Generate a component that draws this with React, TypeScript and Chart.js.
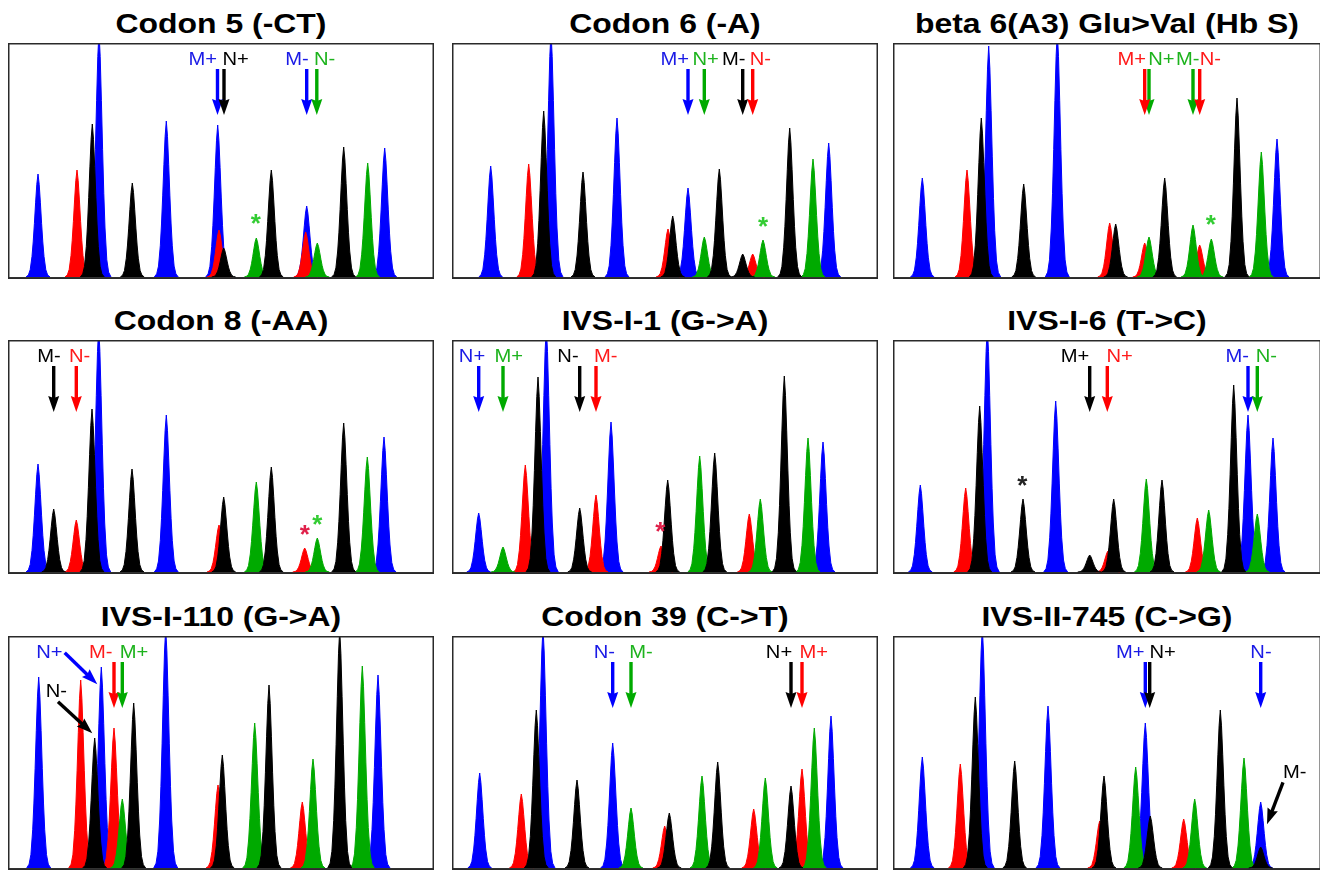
import React, { useEffect, useRef } from "react";
import { Chart, registerables } from "chart.js";

Chart.register(...registerables);

// ---------- data (x = migration position, h = peak height, dye: B blue, R red, G green, K black) ----------
const codon5Pos = [30, 69, 84.3, 91, 124.3, 158.3, 209.7, 211, 215.7, 248.3, 263.3, 298.7, 297.7, 309.3, 335.7, 359.7, 376.7];
const codon5Height = [103, 107, 153, 245, 94, 156, 152, 47, 29, 39, 107, 71, 45, 34, 130, 114, 129];
const codon5Dye = ["B", "R", "K", "B", "K", "B", "B", "R", "K", "G", "K", "B", "R", "G", "K", "G", "B"];

const codon6Pos = [38.7, 76.7, 91.7, 99, 131, 165, 216, 220.7, 236, 252.3, 267.3, 290.7, 300.7, 311, 337.7, 361, 376.7];
const codon6Height = [111, 113, 166, 245, 105, 159, 48, 61, 89, 40, 108, 23, 23, 37, 149, 118, 134];
const codon6Dye = ["B", "R", "K", "B", "K", "B", "R", "K", "B", "G", "K", "K", "R", "G", "K", "G", "B"];

const hbSPos = [29.3, 74, 88.3, 95.7, 130.7, 164.3, 216.7, 222.7, 251.7, 256, 271.7, 300, 306.7, 318.3, 344, 368.3, 384];
const hbSHeight = [99, 107, 159, 231, 93, 245, 54, 53, 34, 40, 99, 52, 32, 38, 179, 125, 138];
const hbSDye = ["B", "R", "K", "B", "K", "B", "R", "K", "R", "G", "K", "G", "R", "G", "K", "G", "B"];

const codon8Pos = [30, 45.7, 68.3, 84, 90.7, 124, 158.3, 211, 215.7, 248.3, 263.3, 296.7, 309.3, 335.7, 359.3, 376];
const codon8Height = [108, 63, 52, 163, 245, 103, 157, 47, 75, 90, 105, 24, 34, 149, 115, 135];
const codon8Dye = ["B", "K", "R", "K", "B", "K", "B", "R", "K", "G", "K", "R", "G", "K", "G", "B"];

const ivs1_1Pos = [26.7, 51, 73.3, 86, 94.3, 127.7, 144, 159, 209, 215.7, 247.7, 262.7, 297.3, 308.3, 332.3, 356, 371];
const ivs1_1Height = [59, 25, 107, 195, 245, 64, 77, 150, 26, 92, 116, 119, 58, 73, 196, 134, 130];
const ivs1_1Dye = ["B", "G", "R", "K", "B", "K", "R", "B", "R", "K", "G", "K", "R", "G", "K", "G", "B"];

const ivs1_6Pos = [27.3, 72.7, 86.7, 94.3, 130, 162.7, 196.7, 215, 220.7, 253.3, 269, 304.3, 315.7, 340.7, 355, 364.3, 380];
const ivs1_6Height = [87, 84, 166, 245, 73, 171, 17, 21, 73, 93, 92, 54, 62, 187, 157, 58, 134];
const ivs1_6Dye = ["B", "R", "K", "B", "K", "B", "K", "R", "K", "G", "K", "R", "G", "K", "B", "G", "B"];

const ivs1_110Pos = [30.7, 72.7, 86.7, 93.3, 106, 114.3, 125.7, 157.7, 210, 214.3, 246.7, 261, 294.3, 305, 331.7, 354.3, 370];
const ivs1_110Height = [191, 188, 130, 201, 140, 69, 165, 240, 83, 113, 145, 183, 66, 109, 238, 202, 193];
const ivs1_110Dye = ["B", "R", "K", "B", "R", "G", "K", "B", "R", "K", "G", "K", "R", "G", "K", "G", "B"];

const codon39Pos = [27.7, 69.3, 84.3, 91, 125, 160.7, 179, 212.7, 217.3, 250, 265.7, 301.7, 313.3, 339, 350, 362.3, 379];
const codon39Height = [95, 74, 158, 240, 88, 125, 60, 42, 55, 92, 106, 59, 90, 82, 99, 140, 152];
const codon39Dye = ["B", "R", "K", "B", "K", "B", "G", "R", "K", "G", "K", "R", "G", "K", "R", "G", "B"];

const ivs2_745Pos = [29.3, 67.3, 82.3, 89.3, 121.7, 155, 206.7, 211, 242.7, 252.3, 257.3, 290.7, 301.7, 327.3, 351, 367.7, 367.7];
const ivs2_745Height = [111, 104, 171, 240, 107, 162, 47, 92, 101, 145, 52, 49, 69, 158, 110, 66, 21];
const ivs2_745Dye = ["B", "R", "K", "B", "K", "B", "R", "K", "G", "B", "K", "R", "G", "K", "G", "B", "K"];

// ---------- annotations ----------
// vertical arrows: [x, dye]
const codon5Arrows = [[209.5, "B"], [216, "K"], [298.7, "B"], [308.8, "G"]];
const codon6Arrows = [[236, "B"], [252.3, "G"], [290.7, "K"], [300.7, "R"]];
const hbSArrows = [[256, "G"], [251.7, "R"], [300, "G"], [306.7, "R"]];
const codon8Arrows = [[45.7, "K"], [68.3, "R"]];
const ivs1_1Arrows = [[26.7, "B"], [51, "G"], [127.7, "K"], [144, "R"]];
const ivs1_6Arrows = [[196.7, "K"], [214.3, "R"], [355, "B"], [364.3, "G"]];
const ivs1_110Arrows = [[106, "R"], [114.3, "G"]];
const codon39Arrows = [[160.7, "B"], [179, "G"], [339, "K"], [350, "R"]];
const ivs2_745Arrows = [[252.3, "B"], [256.7, "K"], [367.7, "B"]];

// labels: [text, x, dye, optional y]
const codon5Labels = [["M+", 194.7, "B"], ["N+", 227.7, "K"], ["M-", 289, "B"], ["N-", 316.7, "G"]];
const codon6Labels = [["M+", 222.7, "B"], ["N+", 253.7, "G"], ["M-", 281.7, "K"], ["N-", 308.3, "R"]];
const hbSLabels = [["M+", 238.7, "R"], ["N+", 268.3, "G"], ["M-", 294.7, "G"], ["N-", 317.3, "R"]];
const codon8Labels = [["M-", 41, "K"], ["N-", 71.7, "R"]];
const ivs1_1Labels = [["N+", 20, "B"], ["M+", 56.7, "G"], ["N-", 116, "K"], ["M-", 153.7, "R"]];
const ivs1_6Labels = [["M+", 182, "K"], ["N+", 226.7, "R"], ["M-", 344.3, "B"], ["N-", 373.3, "G"]];
const ivs1_110Labels = [["N+", 41.3, "B"], ["M-", 92.7, "R"], ["M+", 126, "G"], ["N-", 48.3, "K", 176.3]];
const codon39Labels = [["N-", 152.3, "B"], ["M-", 189, "G"], ["N+", 327, "K"], ["M+", 361.7, "R"]];
const ivs2_745Labels = [["M+", 237.3, "B"], ["N+", 269.7, "K"], ["N-", 368, "B"], ["M-", 401.7, "K", 94.7]];

// asterisks: [x, y, dye]
const codon5Stars = [[247.7, 57.7, "G"]];
const codon6Stars = [[311, 55, "G"]];
const hbSStars = [[317.7, 56.7, "G"]];
const codon8Stars = [[296.7, 41.7, "R"], [309.3, 52.3, "G"]];
const ivs1_1Stars = [[208.3, 45, "R"]];
const ivs1_6Stars = [[129.3, 91, "K"]];

// diagonal arrows: [x0, y0, x1, y1, dye]
const ivs1_110Diag = [[56.7, 215.3, 89.3, 183.7, "B"], [50, 166.3, 84.3, 134.7, "K"]];
const ivs2_745Diag = [[390, 85.7, 374, 43.7, "K"]];

// ---------- styling ----------
const DYE_COLOR: Record<string, string> = { B: "#0000ff", R: "#ff0000", G: "#00aa00", K: "#000000" };
const TEXT_COLOR: Record<string, string> = { B: "#1a1ae6", R: "#ff1a1a", G: "#1db31d", K: "#000000" };
const STAR_COLOR: Record<string, string> = { B: "#1a1ae6", R: "#e0204a", G: "#33cc33", K: "#222222" };
const DYE_ORDER: Record<string, number> = { K: 0, G: 1, R: 2, B: 3 };
// shape template of a single electropherogram peak: [offset, fraction of height]
const PEAK_PROFILE = [
  [-12, 0], [-9.6, 0.02], [-7.8, 0.07], [-6, 0.2], [-4.8, 0.34], [-3.6, 0.52], [-2.4, 0.72], [-1.2, 0.9], [0, 1],
  [1.2, 0.9], [2.4, 0.72], [3.6, 0.52], [4.8, 0.34], [6, 0.2], [7.8, 0.07], [9.6, 0.02], [12, 0],
];
const FONT = '"Liberation Sans", Arial, Helvetica, sans-serif';
const COL_LEFT = [8, 452, 893];
const COL_WIDTH = [426, 426, 428];
const ROW_TOP = [43, 340, 636];
const ROW_HEIGHT = [236, 234, 234];

function makePanel(title: string, pos: number[], height: number[], dye: string[], arrows: any[], labels: any[], stars: any[], diag: any[]) {
  return {
    title,
    peaks: pos.map((x, i) => ({ x, h: height[i], dye: dye[i] })),
    arrows,
    labels,
    stars,
    diag,
  };
}

const PANELS = [
  makePanel("Codon 5 (-CT)", codon5Pos, codon5Height, codon5Dye, codon5Arrows, codon5Labels, codon5Stars, []),
  makePanel("Codon 6 (-A)", codon6Pos, codon6Height, codon6Dye, codon6Arrows, codon6Labels, codon6Stars, []),
  makePanel("beta 6(A3) Glu>Val (Hb S)", hbSPos, hbSHeight, hbSDye, hbSArrows, hbSLabels, hbSStars, []),
  makePanel("Codon 8 (-AA)", codon8Pos, codon8Height, codon8Dye, codon8Arrows, codon8Labels, codon8Stars, []),
  makePanel("IVS-I-1 (G->A)", ivs1_1Pos, ivs1_1Height, ivs1_1Dye, ivs1_1Arrows, ivs1_1Labels, ivs1_1Stars, []),
  makePanel("IVS-I-6 (T->C)", ivs1_6Pos, ivs1_6Height, ivs1_6Dye, ivs1_6Arrows, ivs1_6Labels, ivs1_6Stars, []),
  makePanel("IVS-I-110 (G->A)", ivs1_110Pos, ivs1_110Height, ivs1_110Dye, ivs1_110Arrows, ivs1_110Labels, [], ivs1_110Diag),
  makePanel("Codon 39 (C->T)", codon39Pos, codon39Height, codon39Dye, codon39Arrows, codon39Labels, [], []),
  makePanel("IVS-II-745 (C->G)", ivs2_745Pos, ivs2_745Height, ivs2_745Dye, ivs2_745Arrows, ivs2_745Labels, [], ivs2_745Diag),
];

function drawArrow(ctx: CanvasRenderingContext2D, x0: number, y0: number, x1: number, y1: number, color: string) {
  const dx = x1 - x0;
  const dy = y1 - y0;
  const len = Math.hypot(dx, dy);
  const ux = dx / len;
  const uy = dy / len;
  const px = -uy;
  const py = ux;
  const headLen = 16;
  const headW = 11;
  ctx.save();
  ctx.strokeStyle = color;
  ctx.fillStyle = color;
  ctx.lineWidth = 3.4;
  ctx.lineCap = "butt";
  ctx.beginPath();
  ctx.moveTo(x0, y0);
  ctx.lineTo(x1 - ux * (headLen - 4), y1 - uy * (headLen - 4));
  ctx.stroke();
  ctx.beginPath();
  ctx.moveTo(x1, y1);
  ctx.lineTo(x1 - ux * headLen + px * headW / 2, y1 - uy * headLen + py * headW / 2);
  ctx.lineTo(x1 - ux * (headLen - 2), y1 - uy * (headLen - 2));
  ctx.lineTo(x1 - ux * headLen - px * headW / 2, y1 - uy * headLen - py * headW / 2);
  ctx.closePath();
  ctx.fill();
  ctx.restore();
}

function Panel({ p, left, top, width, height }: any) {
  const ref = useRef<HTMLCanvasElement>(null);
  useEffect(() => {
    const canvas = ref.current;
    if (!canvas) return;
    const plugin = {
      id: "electroAnnot",
      beforeDatasetsDraw(chart: any) {
        const { ctx, chartArea: a, scales } = chart;
        const y0 = scales.y.getPixelForValue(0);
        ctx.save();
        ctx.strokeStyle = "#3a3a3a";
        ctx.lineWidth = 1.2;
        ctx.beginPath();
        ctx.moveTo(a.left, y0 + 0.5);
        ctx.lineTo(a.right, y0 + 0.5);
        ctx.stroke();
        ctx.restore();
      },
      afterDatasetsDraw(chart: any) {
        const { ctx, chartArea: a, scales } = chart;
        const xs = scales.x;
        const ys = scales.y;
        for (const [x, d] of p.arrows) {
          const px = xs.getPixelForValue(x);
          drawArrow(ctx, px, a.top + 26, px, a.top + 72, DYE_COLOR[d]);
        }
        for (const [x0, y0, x1, y1, d] of p.diag) {
          drawArrow(ctx, xs.getPixelForValue(x0), ys.getPixelForValue(y0), xs.getPixelForValue(x1), ys.getPixelForValue(y1), DYE_COLOR[d]);
        }
        ctx.save();
        ctx.font = `18px ${FONT}`;
        ctx.textAlign = "center";
        ctx.textBaseline = "middle";
        for (const [t, x, d, yv] of p.labels) {
          const py = yv === undefined ? a.top + 17 : ys.getPixelForValue(yv);
          ctx.save();
          ctx.translate(xs.getPixelForValue(x), py);
          ctx.scale(1.12, 1);
          ctx.fillStyle = TEXT_COLOR[d];
          ctx.fillText(t, 0, 0);
          ctx.restore();
        }
        ctx.font = `bold 26px ${FONT}`;
        for (const [x, y, d] of p.stars) {
          ctx.fillStyle = STAR_COLOR[d];
          ctx.fillText("*", xs.getPixelForValue(x), ys.getPixelForValue(y) + 6);
        }
        ctx.restore();
      },
      afterDraw(chart: any) {
        const { ctx, chartArea: a } = chart;
        ctx.save();
        ctx.strokeStyle = "#2a2a2a";
        ctx.lineWidth = 1.5;
        ctx.strokeRect(a.left + 0.75, a.top + 0.75, a.right - a.left - 1.5, a.bottom - a.top - 1.5);
        ctx.restore();
      },
    };
    const chart = new Chart(canvas, {
      type: "line",
      data: {
        datasets: p.peaks.map((pk: any) => ({
          data: PEAK_PROFILE.map(([dx, f]) => ({ x: pk.x + dx, y: pk.h * f })),
          borderColor: DYE_COLOR[pk.dye],
          backgroundColor: DYE_COLOR[pk.dye],
          fill: "origin",
          borderWidth: 1,
          pointRadius: 0,
          tension: 0,
          order: DYE_ORDER[pk.dye],
        })),
      },
      options: {
        animation: false,
        responsive: false,
        events: [],
        layout: { padding: 0 },
        scales: {
          x: { type: "linear", min: 0, max: width, display: false },
          y: { type: "linear", min: -2, max: height - 2, display: false },
        },
        plugins: { legend: { display: false }, tooltip: { enabled: false } },
      },
      plugins: [plugin],
    } as any);
    return () => chart.destroy();
  }, []);
  return (
    <>
      <div
        style={{
          position: "absolute",
          left,
          top: top - 33.5,
          width,
          textAlign: "center",
          font: `bold 28px ${FONT}`,
          lineHeight: "28px",
          whiteSpace: "nowrap",
          color: "#000",
          transform: "scaleX(1.14)",
        }}
      >
        {p.title}
      </div>
      <canvas ref={ref} width={width} height={height} style={{ position: "absolute", left, top, width, height }} />
    </>
  );
}

export default function App() {
  useEffect(() => {
    document.body.style.margin = "0";
  }, []);
  return (
    <div style={{ position: "fixed", left: 0, top: 0, width: 1320, height: 870, overflow: "hidden", background: "#fff" }}>
      {PANELS.map((p, i) => {
        const r = Math.floor(i / 3);
        const c = i % 3;
        return <Panel key={i} p={p} left={COL_LEFT[c]} top={ROW_TOP[r]} width={COL_WIDTH[c]} height={ROW_HEIGHT[r]} />;
      })}
    </div>
  );
}
